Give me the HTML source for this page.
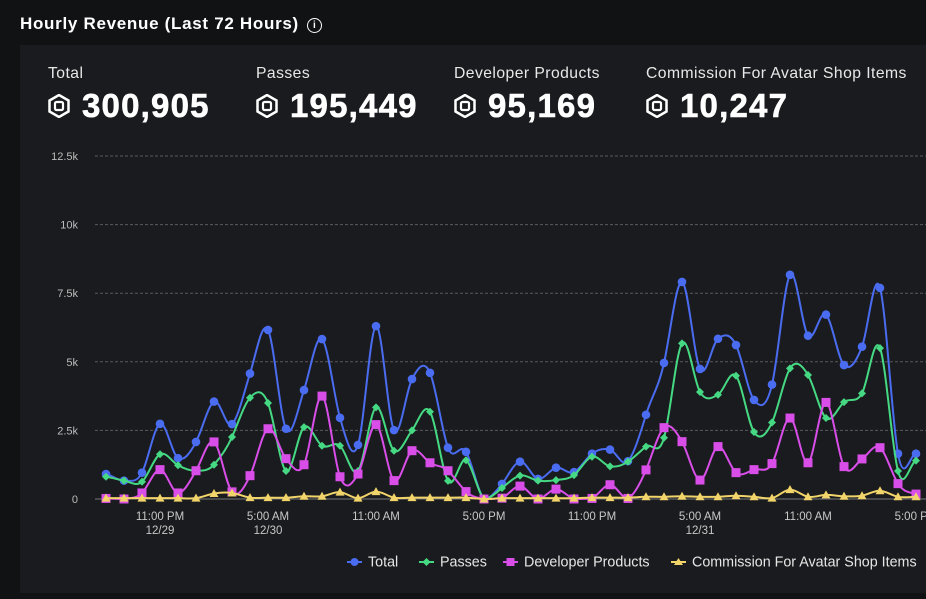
<!DOCTYPE html>
<html><head><meta charset="utf-8">
<style>
body{margin:0;width:926px;height:599px;background:#111214;overflow:hidden;font-family:"Liberation Sans",sans-serif;color:#fff;position:relative}
.title{position:absolute;left:20px;top:14px;font-size:17px;font-weight:bold;letter-spacing:0.7px}
.info{display:inline-block;width:13px;height:13px;border:1.5px solid #fff;border-radius:50%;font-size:10px;text-align:center;line-height:13px;margin-left:8px;vertical-align:1px;font-weight:bold;letter-spacing:0}
.card{position:absolute;left:20px;top:45px;width:906px;height:548px;background:#1a1b1e}
.stat{position:absolute;top:20px}
.stat .lab{font-size:15.7px;color:#e8e8e8;letter-spacing:0.45px}
.stat .val{font-size:33px;font-weight:bold;margin-top:4px;letter-spacing:1.2px;display:flex;align-items:center;-webkit-text-stroke:0.6px #fff}
.stat svg{margin-right:12px}
svg.chart{position:absolute;left:0;top:0}
</style></head><body>
<div class="title">Hourly Revenue (Last 72 Hours)<span class="info">i</span></div>
<div class="card">
 <div class="stat" style="left:28px"><div class="lab">Total</div><div class="val"><svg width="22" height="24" viewBox="0 0 22 24"><polygon points="11,1 20.5,6.5 20.5,17.5 11,23 1.5,17.5 1.5,6.5" fill="none" stroke="#fff" stroke-width="2.5"/><rect x="7" y="8" width="8" height="8" rx="1.5" fill="none" stroke="#fff" stroke-width="2.2"/></svg>300,905</div></div>
 <div class="stat" style="left:236px"><div class="lab">Passes</div><div class="val"><svg width="22" height="24" viewBox="0 0 22 24"><polygon points="11,1 20.5,6.5 20.5,17.5 11,23 1.5,17.5 1.5,6.5" fill="none" stroke="#fff" stroke-width="2.5"/><rect x="7" y="8" width="8" height="8" rx="1.5" fill="none" stroke="#fff" stroke-width="2.2"/></svg>195,449</div></div>
 <div class="stat" style="left:434px"><div class="lab">Developer Products</div><div class="val"><svg width="22" height="24" viewBox="0 0 22 24"><polygon points="11,1 20.5,6.5 20.5,17.5 11,23 1.5,17.5 1.5,6.5" fill="none" stroke="#fff" stroke-width="2.5"/><rect x="7" y="8" width="8" height="8" rx="1.5" fill="none" stroke="#fff" stroke-width="2.2"/></svg>95,169</div></div>
 <div class="stat" style="left:626px"><div class="lab">Commission For Avatar Shop Items</div><div class="val"><svg width="22" height="24" viewBox="0 0 22 24"><polygon points="11,1 20.5,6.5 20.5,17.5 11,23 1.5,17.5 1.5,6.5" fill="none" stroke="#fff" stroke-width="2.5"/><rect x="7" y="8" width="8" height="8" rx="1.5" fill="none" stroke="#fff" stroke-width="2.2"/></svg>10,247</div></div>
</div>
<svg class="chart" id="chart" width="926" height="599"></svg>
<script>
const yTicks=[0,2500,5000,7500,10000,12500];
const yTickLabels=["0","2.5k","5k","7.5k","10k","12.5k"];
const xTickIdx=[3,9,15,21,27,33,39,45];
const xTickLabels=[["11:00 PM","12/29"],["5:00 AM","12/30"],["11:00 AM"],["5:00 PM"],["11:00 PM"],["5:00 AM","12/31"],["11:00 AM"],["5:00 PM"]];
const totalVals=[0.91,0.67,0.96,2.74,1.49,2.08,3.55,2.73,4.57,6.16,2.56,3.97,5.83,2.96,1.97,6.30,2.51,4.37,4.60,1.87,1.72,0,0.55,1.36,0.73,1.14,0.98,1.65,1.80,1.38,3.07,4.96,7.91,4.74,5.84,5.61,3.61,4.17,8.17,5.95,6.72,4.88,5.55,7.69,1.65,1.65];
const passesVals=[0.81,0.67,0.63,1.63,1.23,1.03,1.25,2.26,3.69,3.50,1.02,2.62,1.94,1.94,1.02,3.34,1.76,2.50,3.18,0.66,1.41,0,0.4,0.85,0.67,0.69,0.87,1.54,1.19,1.36,1.91,2.23,5.67,3.90,3.80,4.49,2.44,2.79,4.76,4.52,2.95,3.53,3.85,5.50,1.02,1.40];
const devVals=[0.02,0,0.22,1.07,0.22,1.03,2.08,0.26,0.85,2.56,1.47,1.25,3.75,0.81,0.91,2.71,0.67,1.76,1.32,1.03,0.27,0,0.03,0.47,0,0.36,0,0.02,0.52,0.02,1.06,2.60,2.09,0.69,1.91,0.96,1.07,1.29,2.95,1.32,3.52,1.18,1.46,1.87,0.56,0.18];
const commVals=[0.03,0.03,0.03,0.03,0.03,0.03,0.2,0.22,0.05,0.05,0.05,0.1,0.1,0.25,0.03,0.27,0.05,0.05,0.05,0.05,0.05,0,0.03,0.03,0.03,0.03,0.03,0.05,0.05,0.05,0.08,0.08,0.1,0.08,0.08,0.12,0.08,0.03,0.34,0.08,0.15,0.1,0.12,0.3,0.08,0.08];
const NS="http://www.w3.org/2000/svg";
const svg=document.getElementById('chart');
const X0=106,DX=18,Y0=499,YTOP=156,YMAX=12500;
const xs=i=>X0+i*DX;
const ys=v=>Y0-(v/YMAX)*(Y0-YTOP);
function mk(t,a){const e=document.createElementNS(NS,t);for(const k in a)e.setAttribute(k,a[k]);svg.appendChild(e);return e;}
yTicks.forEach((t,i)=>{
 const g=mk('line',{x1:95,x2:926,y1:ys(t),y2:ys(t),stroke:t===0?'#777':'#5a5b5f','stroke-dasharray':t===0?'':'3,2','stroke-width':1});
 
 
 const l=mk('text',{x:78,y:ys(t)+4,'text-anchor':'end',fill:'#bdbdbd','font-size':11,'font-family':'Liberation Sans, sans-serif'});
 l.textContent=yTickLabels[i];
 
 
});
xTickIdx.forEach((ix,i)=>{
 xTickLabels[i].forEach((s,j)=>{
  const l=mk('text',{x:xs(ix),y:520+j*14,'text-anchor':'middle',fill:'#c8c8c8','font-size':11.5,'font-family':'Liberation Sans, sans-serif'});
  l.textContent=s;
  
  
 });
});
function spline(pts){
 let d='M'+pts[0][0]+','+pts[0][1];
 for(let i=0;i<pts.length-1;i++){
  const p0=pts[Math.max(0,i-1)],p1=pts[i],p2=pts[i+1],p3=pts[Math.min(pts.length-1,i+2)];
  const t=0.2;
  let c1y=p1[1]+(p2[1]-p0[1])*t, c2y=p2[1]-(p3[1]-p1[1])*t;
  const lo=Y0;c1y=Math.min(c1y,lo);c2y=Math.min(c2y,lo);
  d+=' C'+(p1[0]+DX/3)+','+c1y+' '+(p2[0]-DX/3)+','+c2y+' '+p2[0]+','+p2[1];
 }
 return d;
}
function series(vals,color,shape,name){
 const pts=vals.map((v,i)=>[xs(i),ys(v*1000)]);
 const p=mk('path',{d:spline(pts),fill:'none',stroke:color,'stroke-width':2});
 
 
 pts.forEach(([x,y])=>{
  let m;
  if(shape==='circle')m=mk('circle',{cx:x,cy:y,r:4.3,fill:color});
  else if(shape==='diamond')m=mk('polygon',{points:`${x},${y-4} ${x+4},${y} ${x},${y+4} ${x-4},${y}`,fill:color});
  else if(shape==='square')m=mk('rect',{x:x-4.5,y:y-4.5,width:9,height:9,fill:color});
  else m=mk('polygon',{points:`${x},${y-4.5} ${x+4.5},${y+3.5} ${x-4.5},${y+3.5}`,fill:color});
  
  
 });
}
series(totalVals,'#4a6cf0','circle','total');
series(passesVals,'#46d983','diamond','passes');
series(devVals,'#d94ee8','square','developer-products');
series(commVals,'#f1d46a','triangle','commission');
const legend=[['Total','#4a6cf0','circle',347],['Passes','#46d983','diamond',419],['Developer Products','#d94ee8','square',503],['Commission For Avatar Shop Items','#f1d46a','triangle',671]];
legend.forEach(([t,c,s,x])=>{
 const y=562;
 mk('line',{x1:x,x2:x+15,y1:y,y2:y,stroke:c,'stroke-width':2});
 const cx=x+7.5;
 if(s==='circle')mk('circle',{cx:cx,cy:y,r:4,fill:c});
 else if(s==='diamond')mk('polygon',{points:`${cx},${y-4} ${cx+4},${y} ${cx},${y+4} ${cx-4},${y}`,fill:c});
 else if(s==='square')mk('rect',{x:cx-4,y:y-4,width:8,height:8,fill:c});
 else mk('polygon',{points:`${cx},${y-4} ${cx+4.5},${y+3} ${cx-4.5},${y+3}`,fill:c});
 const l=mk('text',{x:x+21,y:y+4.5,fill:'#e6e6e6','font-size':14.3,'font-family':'Liberation Sans, sans-serif'});
 l.textContent=t;
 
 
});
</script>
</body></html>
